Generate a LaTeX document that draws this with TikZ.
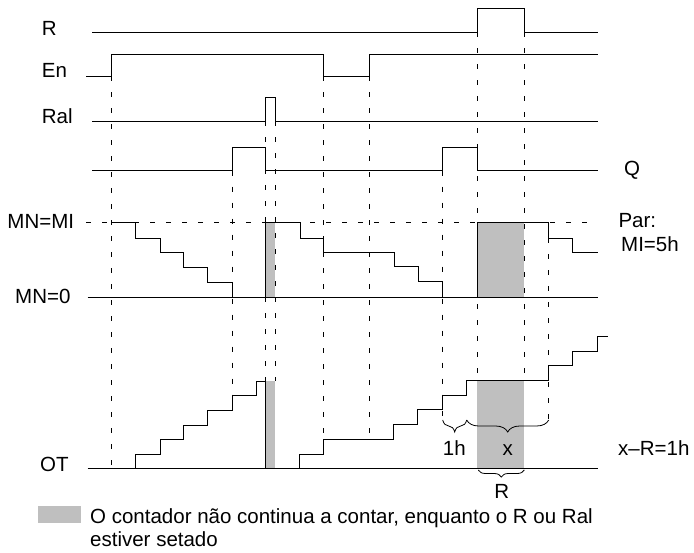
\documentclass[tikz,border=0pt]{standalone}
\usepackage{fontspec}
\setmainfont{Liberation Sans}
\usetikzlibrary{decorations.pathreplacing}
\definecolor{hold}{RGB}{191,191,191}
\begin{document}
\begin{tikzpicture}[x=1pt,y=-1pt,
  font=\fontsize{20.5}{24}\selectfont,
  sig/.style={line width=1pt},
  guide/.style={line width=1pt, dash pattern=on 5pt off 11pt},
  lbl/.style={anchor=base west, inner sep=0pt},
  lblc/.style={anchor=base, inner sep=0pt},
  brc/.style={line width=0.8pt, decorate, decoration={brace, amplitude=#1, mirror}},
  holdbox/.style={fill=hold, draw=none}]
\useasboundingbox (0,0) rectangle (694,552);

% gray hold areas
\fill[holdbox] (265.3,222.3) rectangle (275.3,297.3);
\fill[holdbox] (477.3,222.3) rectangle (524.3,297.3);
\fill[holdbox] (265.3,381) rectangle (275.3,468.7);
\fill[holdbox] (477.3,380.3) rectangle (524.3,468.7);
\fill[holdbox] (38.3,506) rectangle (81,523.3);

% labels
\node[lbl] (lR) at (41.7,35) {R};
\node[lbl] (lEn) at (41.7,77.3) {En};
\node[lbl] (lRal) at (41.7,123.3) {Ral};
\node[lbl] (lQ) at (624,175) {Q};
\node[lbl] (lMI) at (7.3,228.3) {MN=MI};
\node[lbl] (l0) at (15,303.3) {MN=0};
\node[lbl] (lOT) at (40,471.7) {OT};
\node[lbl] (lPar) at (618.3,227.3) {Par:};
\node[lbl] (lPar2) at (621,251.7) {MI=5h};
\node[lbl] (l1h) at (442.7,455) {1h};
\node[lblc] (lx) at (507.7,455) {x};
\node[lbl] (lxR) at (618,455) {x--R=1h};
\node[lblc] (lRb) at (501.7,498) {R};
\node[lbl] (leg1) at (90,523.5) {O contador não continua a contar, enquanto o R ou Ral};
\node[lbl] (leg2) at (90,546) {estiver setado};

% guides
\draw[guide] (86,222.3) -- (597.7,222.3);
\foreach \x/\a/\b in {111/76.3/468.7, 232/170.7/395.7, 265.3/121.3/381, 275.3/121.3/381,
  323.3/76.3/439, 369.7/76.3/439, 442.7/170.7/421, 477.3/32.3/380.3, 524.3/32.3/380.3,
  548.7/222.3/421}
  \draw[guide] (\x,\a) -- (\x,\b);

% signals
\draw[sig] (92,32.3) -- (477.3,32.3) |- (524.3,8.3) |- (597.7,32.3);
\draw[sig] (86,76.3) -- (111,76.3) |- (323.3,54.3) |- (369.7,76.3) |- (597.7,54.3);
\draw[sig] (92,121.3) -- (265.3,121.3) |- (275.3,97.7) |- (597.7,121.3);
\draw[sig] (92,170.7) -- (232,170.7) |- (265.3,147.3) |- (442.7,170.7) |- (477.3,147.3) |- (597.7,170.7);

% MN
\draw[sig] (87.7,297.3) -- (597.7,297.3);
\draw[sig] (111,222.3) -| (135.3,238.3) -| (160,252.7) -| (183.7,267.7) -| (207.7,282) -| (232,297.3);
\draw[sig] (265.3,297.3) -- (265.3,222.3) -| (300,238.3) -| (323.3,252.7) -| (394,266.7) -| (418.7,281) -| (442.7,297.3);
\draw[sig] (477.3,297.3) -- (477.3,222.3) -| (548.7,238.3) -| (572.7,252.7) -- (597.7,252.7);

% OT
\draw[sig] (87.7,468.7) -- (597.7,468.7);
\draw[sig] (111,468.7) -| (135.3,454.7) -| (160,439.7) -| (183.7,425.3) -| (207.7,410.3) -| (232,395.7) -| (256,381) -- (265.3,381) -- (265.3,468.7);
\draw[sig] (275.3,468.7) -| (299.3,454) -| (323.3,439) -| (393.3,424.3) -| (417.7,409.3) -| (442.7,395.3) -| (466.7,380.3) -| (548.7,365.7) -| (572.7,351) -| (597.7,336) -- (608.3,336);

% braces
\coordinate (b1) at (442.7,420);
\coordinate (b2) at (466.7,420);
\coordinate (b3) at (548.7,420);
\coordinate (r1) at (478.3,470);
\coordinate (r2) at (524.3,470);
\draw[brc=12pt] (b1) -- (b2);
\draw[brc=12pt] (b2) -- (b3);
\draw[brc=7pt] (r1) -- (r2);
\end{tikzpicture}
\end{document}
